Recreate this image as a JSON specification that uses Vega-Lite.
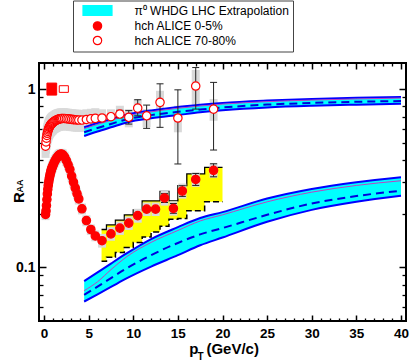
{
"$schema": "https://vega.github.io/schema/vega-lite/v6.json",
"width": 367, "height": 258,
"autosize": {"type": "none"},
"padding": {"left": 39, "top": 63, "right": 9, "bottom": 42},
"background": "white",
"config": {"view": {"stroke": "black", "strokeWidth": 2}, "font": "Liberation Sans"},
"datasets": {
"yellow": [
{"x":6.45,"top":0.163,"bot":0.108},{"x":7,"top":0.173,"bot":0.114},{"x":8,"top":0.184,"bot":0.121},{"x":9,"top":0.197,"bot":0.129},{"x":10,"top":0.210,"bot":0.138},{"x":11,"top":0.236,"bot":0.148},{"x":12,"top":0.236,"bot":0.158},{"x":13,"top":0.267,"bot":0.170},{"x":14,"top":0.236,"bot":0.186},{"x":15,"top":0.287,"bot":0.188},{"x":16,"top":0.334,"bot":0.208},{"x":18,"top":0.364,"bot":0.233},{"x":20,"top":0.364,"bot":0.233}
],
"theory": [
{"band":"central","x":4.5,"lo":0.0643,"dash":0.070,"mag":0.074,"hi":0.0837},
{"band":"central","x":6,"lo":0.0706,"dash":0.078,"mag":0.083,"hi":0.0937},
{"band":"central","x":7.5,"lo":0.0776,"dash":0.087,"mag":0.097,"hi":0.105},
{"band":"central","x":9.3,"lo":0.087,"dash":0.099,"mag":0.115,"hi":0.120},
{"band":"central","x":12,"lo":0.101,"dash":0.117,"mag":0.138,"hi":0.144},
{"band":"central","x":15,"lo":0.117,"dash":0.137,"mag":0.161,"hi":0.168},
{"band":"central","x":17.5,"lo":0.133,"dash":0.153,"mag":0.182,"hi":0.189},
{"band":"central","x":20,"lo":0.147,"dash":0.166,"mag":0.197,"hi":0.204},
{"band":"central","x":25,"lo":0.180,"dash":0.197,"mag":0.233,"hi":0.243},
{"band":"central","x":30,"lo":0.210,"dash":0.228,"mag":0.264,"hi":0.275},
{"band":"central","x":35,"lo":0.233,"dash":0.251,"mag":0.288,"hi":0.300},
{"band":"central","x":40,"lo":0.252,"dash":0.269,"mag":0.306,"hi":0.320},
{"band":"peripheral","x":4.5,"lo":0.545,"dash":0.572,"mag":0.600,"hi":0.610},
{"band":"peripheral","x":6,"lo":0.578,"dash":0.605,"mag":0.634,"hi":0.645},
{"band":"peripheral","x":7.5,"lo":0.610,"dash":0.637,"mag":0.667,"hi":0.678},
{"band":"peripheral","x":9.3,"lo":0.650,"dash":0.677,"mag":0.707,"hi":0.720},
{"band":"peripheral","x":12,"lo":0.686,"dash":0.714,"mag":0.745,"hi":0.758},
{"band":"peripheral","x":15,"lo":0.715,"dash":0.745,"mag":0.780,"hi":0.793},
{"band":"peripheral","x":17.5,"lo":0.740,"dash":0.768,"mag":0.803,"hi":0.816},
{"band":"peripheral","x":20,"lo":0.760,"dash":0.788,"mag":0.823,"hi":0.836},
{"band":"peripheral","x":25,"lo":0.789,"dash":0.818,"mag":0.850,"hi":0.862},
{"band":"peripheral","x":30,"lo":0.806,"dash":0.836,"mag":0.867,"hi":0.880},
{"band":"peripheral","x":35,"lo":0.817,"dash":0.848,"mag":0.880,"hi":0.893},
{"band":"peripheral","x":40,"lo":0.826,"dash":0.857,"mag":0.890,"hi":0.903}
],
"norm": [
{"series":"hch ALICE 0-5%","x1":0.33,"x2":1.42,"y1":0.925,"y2":1.08},
{"series":"hch ALICE 70-80%","x1":1.71,"x2":2.73,"y1":0.958,"y2":1.044}
],
"alice": [
{"series":"hch ALICE 70-80%","x":0.175,"y":0.478,"sLo":0.411,"sHi":0.545},
{"series":"hch ALICE 70-80%","x":0.225,"y":0.505,"sLo":0.434,"sHi":0.576},
{"series":"hch ALICE 70-80%","x":0.275,"y":0.530,"sLo":0.456,"sHi":0.604},
{"series":"hch ALICE 70-80%","x":0.325,"y":0.550,"sLo":0.473,"sHi":0.627},
{"series":"hch ALICE 70-80%","x":0.375,"y":0.565,"sLo":0.486,"sHi":0.644},
{"series":"hch ALICE 70-80%","x":0.425,"y":0.579,"sLo":0.498,"sHi":0.660},
{"series":"hch ALICE 70-80%","x":0.475,"y":0.590,"sLo":0.507,"sHi":0.673},
{"series":"hch ALICE 70-80%","x":0.525,"y":0.600,"sLo":0.516,"sHi":0.684},
{"series":"hch ALICE 70-80%","x":0.575,"y":0.609,"sLo":0.524,"sHi":0.694},
{"series":"hch ALICE 70-80%","x":0.625,"y":0.616,"sLo":0.530,"sHi":0.702},
{"series":"hch ALICE 70-80%","x":0.675,"y":0.622,"sLo":0.535,"sHi":0.709},
{"series":"hch ALICE 70-80%","x":0.725,"y":0.628,"sLo":0.540,"sHi":0.716},
{"series":"hch ALICE 70-80%","x":0.775,"y":0.633,"sLo":0.544,"sHi":0.722},
{"series":"hch ALICE 70-80%","x":0.825,"y":0.637,"sLo":0.548,"sHi":0.726},
{"series":"hch ALICE 70-80%","x":0.875,"y":0.641,"sLo":0.551,"sHi":0.731},
{"series":"hch ALICE 70-80%","x":0.925,"y":0.645,"sLo":0.555,"sHi":0.735},
{"series":"hch ALICE 70-80%","x":0.975,"y":0.648,"sLo":0.557,"sHi":0.739},
{"series":"hch ALICE 70-80%","x":1.05,"y":0.653,"sLo":0.562,"sHi":0.744},
{"series":"hch ALICE 70-80%","x":1.15,"y":0.659,"sLo":0.567,"sHi":0.751},
{"series":"hch ALICE 70-80%","x":1.25,"y":0.664,"sLo":0.571,"sHi":0.757},
{"series":"hch ALICE 70-80%","x":1.35,"y":0.668,"sLo":0.574,"sHi":0.762},
{"series":"hch ALICE 70-80%","x":1.45,"y":0.672,"sLo":0.578,"sHi":0.766},
{"series":"hch ALICE 70-80%","x":1.55,"y":0.675,"sLo":0.581,"sHi":0.770},
{"series":"hch ALICE 70-80%","x":1.65,"y":0.678,"sLo":0.583,"sHi":0.773},
{"series":"hch ALICE 70-80%","x":1.75,"y":0.680,"sLo":0.585,"sHi":0.775},
{"series":"hch ALICE 70-80%","x":1.85,"y":0.682,"sLo":0.587,"sHi":0.777},
{"series":"hch ALICE 70-80%","x":1.95,"y":0.683,"sLo":0.587,"sHi":0.779},
{"series":"hch ALICE 70-80%","x":2.1,"y":0.684,"sLo":0.588,"sHi":0.780},
{"series":"hch ALICE 70-80%","x":2.3,"y":0.684,"sLo":0.588,"sHi":0.780},
{"series":"hch ALICE 70-80%","x":2.5,"y":0.682,"sLo":0.587,"sHi":0.777},
{"series":"hch ALICE 70-80%","x":2.7,"y":0.680,"sLo":0.585,"sHi":0.775},
{"series":"hch ALICE 70-80%","x":2.9,"y":0.678,"sLo":0.583,"sHi":0.773},
{"series":"hch ALICE 70-80%","x":3.1,"y":0.676,"sLo":0.581,"sHi":0.771},
{"series":"hch ALICE 70-80%","x":3.3,"y":0.674,"sLo":0.580,"sHi":0.768},
{"series":"hch ALICE 70-80%","x":3.5,"y":0.672,"sLo":0.578,"sHi":0.766},
{"series":"hch ALICE 70-80%","x":3.7,"y":0.671,"sLo":0.577,"sHi":0.765},
{"series":"hch ALICE 70-80%","x":3.9,"y":0.670,"sLo":0.576,"sHi":0.764},
{"series":"hch ALICE 70-80%","x":4.25,"y":0.670,"sLo":0.576,"sHi":0.764},
{"series":"hch ALICE 70-80%","x":4.75,"y":0.675,"sLo":0.581,"sHi":0.770},
{"series":"hch ALICE 70-80%","x":5.25,"y":0.680,"sLo":0.585,"sHi":0.775},
{"series":"hch ALICE 70-80%","x":5.75,"y":0.685,"sLo":0.589,"sHi":0.781},
{"series":"hch ALICE 70-80%","x":6.5,"y":0.688,"sLo":0.61,"sHi":0.77},
{"series":"hch ALICE 70-80%","x":7.5,"y":0.700,"sLo":0.64,"sHi":0.77},
{"series":"hch ALICE 70-80%","x":8.5,"y":0.724,"sLo":0.65,"sHi":0.806,"eLo":0.69,"eHi":0.76},
{"series":"hch ALICE 70-80%","x":9.5,"y":0.694,"sLo":0.61,"sHi":0.772,"eLo":0.636,"eHi":0.757},
{"series":"hch ALICE 70-80%","x":10.5,"y":0.782,"sLo":0.708,"sHi":0.879,"eLo":0.708,"eHi":0.871},
{"series":"hch ALICE 70-80%","x":11.5,"y":0.708,"sLo":0.61,"sHi":0.772,"eLo":0.602,"eHi":0.813},
{"series":"hch ALICE 70-80%","x":13,"y":0.842,"sLo":0.724,"sHi":0.978,"eLo":0.61,"eHi":1.07},
{"series":"hch ALICE 70-80%","x":15,"y":0.688,"sLo":0.572,"sHi":0.806,"eLo":0.38,"eHi":0.99},
{"series":"hch ALICE 70-80%","x":17,"y":1.04,"sLo":0.79,"sHi":1.28,"eLo":0.772,"eHi":1.32},
{"series":"hch ALICE 70-80%","x":19,"y":0.772,"sLo":0.664,"sHi":0.879,"eLo":0.455,"eHi":1.09},
{"series":"hch ALICE 0-5%","x":0.175,"y":0.198,"sLo":0.184,"sHi":0.212},
{"series":"hch ALICE 0-5%","x":0.225,"y":0.207,"sLo":0.193,"sHi":0.221},
{"series":"hch ALICE 0-5%","x":0.275,"y":0.222,"sLo":0.206,"sHi":0.238},
{"series":"hch ALICE 0-5%","x":0.325,"y":0.240,"sLo":0.223,"sHi":0.257},
{"series":"hch ALICE 0-5%","x":0.375,"y":0.258,"sLo":0.240,"sHi":0.276},
{"series":"hch ALICE 0-5%","x":0.425,"y":0.274,"sLo":0.255,"sHi":0.293},
{"series":"hch ALICE 0-5%","x":0.475,"y":0.288,"sLo":0.268,"sHi":0.308},
{"series":"hch ALICE 0-5%","x":0.525,"y":0.300,"sLo":0.279,"sHi":0.321},
{"series":"hch ALICE 0-5%","x":0.575,"y":0.311,"sLo":0.289,"sHi":0.333},
{"series":"hch ALICE 0-5%","x":0.625,"y":0.321,"sLo":0.299,"sHi":0.343},
{"series":"hch ALICE 0-5%","x":0.675,"y":0.330,"sLo":0.307,"sHi":0.353},
{"series":"hch ALICE 0-5%","x":0.725,"y":0.338,"sLo":0.314,"sHi":0.362},
{"series":"hch ALICE 0-5%","x":0.775,"y":0.346,"sLo":0.322,"sHi":0.370},
{"series":"hch ALICE 0-5%","x":0.825,"y":0.353,"sLo":0.328,"sHi":0.378},
{"series":"hch ALICE 0-5%","x":0.875,"y":0.359,"sLo":0.334,"sHi":0.384},
{"series":"hch ALICE 0-5%","x":0.925,"y":0.365,"sLo":0.339,"sHi":0.391},
{"series":"hch ALICE 0-5%","x":0.975,"y":0.370,"sLo":0.344,"sHi":0.396},
{"series":"hch ALICE 0-5%","x":1.05,"y":0.378,"sLo":0.352,"sHi":0.404},
{"series":"hch ALICE 0-5%","x":1.15,"y":0.388,"sLo":0.361,"sHi":0.415},
{"series":"hch ALICE 0-5%","x":1.25,"y":0.397,"sLo":0.369,"sHi":0.425},
{"series":"hch ALICE 0-5%","x":1.35,"y":0.405,"sLo":0.377,"sHi":0.433},
{"series":"hch ALICE 0-5%","x":1.45,"y":0.412,"sLo":0.383,"sHi":0.441},
{"series":"hch ALICE 0-5%","x":1.55,"y":0.418,"sLo":0.389,"sHi":0.447},
{"series":"hch ALICE 0-5%","x":1.65,"y":0.424,"sLo":0.394,"sHi":0.454},
{"series":"hch ALICE 0-5%","x":1.75,"y":0.428,"sLo":0.398,"sHi":0.458},
{"series":"hch ALICE 0-5%","x":1.85,"y":0.431,"sLo":0.401,"sHi":0.461},
{"series":"hch ALICE 0-5%","x":1.95,"y":0.432,"sLo":0.402,"sHi":0.462},
{"series":"hch ALICE 0-5%","x":2.1,"y":0.428,"sLo":0.398,"sHi":0.458},
{"series":"hch ALICE 0-5%","x":2.3,"y":0.416,"sLo":0.387,"sHi":0.445},
{"series":"hch ALICE 0-5%","x":2.5,"y":0.398,"sLo":0.370,"sHi":0.426},
{"series":"hch ALICE 0-5%","x":2.7,"y":0.377,"sLo":0.351,"sHi":0.403},
{"series":"hch ALICE 0-5%","x":2.9,"y":0.354,"sLo":0.329,"sHi":0.379},
{"series":"hch ALICE 0-5%","x":3.1,"y":0.325,"sLo":0.302,"sHi":0.348},
{"series":"hch ALICE 0-5%","x":3.3,"y":0.301,"sLo":0.280,"sHi":0.322},
{"series":"hch ALICE 0-5%","x":3.5,"y":0.279,"sLo":0.259,"sHi":0.299},
{"series":"hch ALICE 0-5%","x":3.7,"y":0.259,"sLo":0.241,"sHi":0.277},
{"series":"hch ALICE 0-5%","x":3.9,"y":0.242,"sLo":0.225,"sHi":0.259},
{"series":"hch ALICE 0-5%","x":4.25,"y":0.213,"sLo":0.198,"sHi":0.228},
{"series":"hch ALICE 0-5%","x":4.75,"y":0.183,"sLo":0.170,"sHi":0.196},
{"series":"hch ALICE 0-5%","x":5.25,"y":0.163,"sLo":0.152,"sHi":0.174},
{"series":"hch ALICE 0-5%","x":5.75,"y":0.150,"sLo":0.140,"sHi":0.161},
{"series":"hch ALICE 0-5%","x":6.5,"y":0.141,"sLo":0.129,"sHi":0.154},
{"series":"hch ALICE 0-5%","x":7.5,"y":0.154,"sLo":0.141,"sHi":0.168},
{"series":"hch ALICE 0-5%","x":8.5,"y":0.166,"sLo":0.152,"sHi":0.181},
{"series":"hch ALICE 0-5%","x":9.5,"y":0.177,"sLo":0.162,"sHi":0.193},
{"series":"hch ALICE 0-5%","x":10.5,"y":0.195,"sLo":0.178,"sHi":0.213},
{"series":"hch ALICE 0-5%","x":11.5,"y":0.212,"sLo":0.194,"sHi":0.231},
{"series":"hch ALICE 0-5%","x":12.5,"y":0.212,"sLo":0.194,"sHi":0.231},
{"series":"hch ALICE 0-5%","x":13.5,"y":0.245,"sLo":0.222,"sHi":0.270,"eLo":0.231,"eHi":0.259},
{"series":"hch ALICE 0-5%","x":14.5,"y":0.214,"sLo":0.195,"sHi":0.235,"eLo":0.201,"eHi":0.228},
{"series":"hch ALICE 0-5%","x":15.5,"y":0.268,"sLo":0.243,"sHi":0.295,"eLo":0.250,"eHi":0.287},
{"series":"hch ALICE 0-5%","x":17,"y":0.311,"sLo":0.283,"sHi":0.342,"eLo":0.288,"eHi":0.336},
{"series":"hch ALICE 0-5%","x":19,"y":0.350,"sLo":0.318,"sHi":0.385,"eLo":0.322,"eHi":0.381}
]
},
"resolve": {"axis": {"x": "independent", "y": "independent"}},
"layer": [
{"data": {"name": "yellow"},
 "mark": {"type": "area", "interpolate": "step-after", "fill": "#ffff00"},
 "encoding": {
  "x": {"field": "x", "type": "quantitative", "scale": {"domain": [0, 40], "nice": false, "zero": false}, "axis": null},
  "y": {"field": "bot", "type": "quantitative", "scale": {"type": "log", "domain": [0.05, 1.4], "nice": false}, "axis": null},
  "y2": {"field": "top"}}},
{"data": {"name": "yellow"},
 "mark": {"type": "line", "interpolate": "step-after", "color": "black", "strokeWidth": 1.3},
 "encoding": {
  "x": {"field": "x", "type": "quantitative", "axis": null},
  "y": {"field": "top", "type": "quantitative", "axis": null}}},
{"data": {"name": "yellow"},
 "mark": {"type": "line", "interpolate": "step-after", "color": "black", "strokeWidth": 1.5, "strokeDash": [6, 3]},
 "encoding": {
  "x": {"field": "x", "type": "quantitative", "axis": null},
  "y": {"field": "bot", "type": "quantitative", "axis": null}}},
{"data": {"name": "alice"},
 "mark": {"type": "bar", "width": 8, "fill": "#d9d9d9", "clip": true},
 "encoding": {
  "x": {"field": "x", "type": "quantitative", "axis": null},
  "y": {"field": "sLo", "type": "quantitative", "axis": null},
  "y2": {"field": "sHi"}}},
{"data": {"name": "theory"},
 "mark": {"type": "area", "interpolate": "monotone", "fill": "#00ffff"},
 "encoding": {
  "x": {"field": "x", "type": "quantitative", "axis": {"orient": "bottom", "values": [0,5,10,15,20,25,30,35,40], "tickSize": -6, "tickWidth": 1.5, "tickColor": "black", "domain": false, "grid": false, "labelFontSize": 13.5, "labelFontWeight": "bold", "labelFont": "Liberation Sans", "labelColor": "black", "labelPadding": 11, "labelFlush": false, "title": null}},
  "y": {"field": "lo", "type": "quantitative", "axis": {"orient": "left", "values": [0.1, 1], "format": "~g", "tickSize": -7, "tickWidth": 1.5, "tickColor": "black", "domain": false, "grid": false, "labelFontSize": 14, "labelFontWeight": "bold", "labelFont": "Liberation Sans", "labelColor": "black", "labelPadding": 11, "title": null}},
  "y2": {"field": "hi"},
  "detail": {"field": "band"}}},
{"data": {"name": "theory"},
 "mark": {"type": "line", "interpolate": "monotone", "color": "#0000ff", "strokeWidth": 2},
 "encoding": {
  "x": {"field": "x", "type": "quantitative", "axis": {"orient": "bottom", "values": [1,2,3,4,6,7,8,9,11,12,13,14,16,17,18,19,21,22,23,24,26,27,28,29,31,32,33,34,36,37,38,39], "tickSize": -3, "tickWidth": 1.3, "tickColor": "black", "labels": false, "domain": false, "grid": false, "title": null}},
  "y": {"field": "hi", "type": "quantitative", "axis": {"orient": "left", "values": [0.06,0.07,0.08,0.09,0.2,0.3,0.4,0.5,0.6,0.7,0.8,0.9], "tickSize": -4, "tickWidth": 1.3, "tickColor": "black", "labels": false, "domain": false, "grid": false, "title": null}},
  "detail": {"field": "band"}}},
{"data": {"name": "theory"},
 "mark": {"type": "line", "interpolate": "monotone", "color": "#0000ff", "strokeWidth": 2},
 "encoding": {
  "x": {"field": "x", "type": "quantitative", "axis": {"orient": "top", "values": [0,5,10,15,20,25,30,35,40], "tickSize": -6, "tickWidth": 1.5, "tickColor": "black", "labels": false, "domain": false, "grid": false, "title": null}},
  "y": {"field": "lo", "type": "quantitative", "axis": {"orient": "right", "values": [0.1, 1], "tickSize": -7, "tickWidth": 1.5, "tickColor": "black", "labels": false, "domain": false, "grid": false, "title": null}},
  "detail": {"field": "band"}}},
{"data": {"name": "theory"},
 "mark": {"type": "line", "interpolate": "monotone", "color": "#c040c0", "strokeWidth": 1},
 "encoding": {
  "x": {"field": "x", "type": "quantitative", "axis": {"orient": "top", "values": [1,2,3,4,6,7,8,9,11,12,13,14,16,17,18,19,21,22,23,24,26,27,28,29,31,32,33,34,36,37,38,39], "tickSize": -3, "tickWidth": 1.3, "tickColor": "black", "labels": false, "domain": false, "grid": false, "title": null}},
  "y": {"field": "mag", "type": "quantitative", "axis": {"orient": "right", "values": [0.06,0.07,0.08,0.09,0.2,0.3,0.4,0.5,0.6,0.7,0.8,0.9], "tickSize": -4, "tickWidth": 1.3, "tickColor": "black", "labels": false, "domain": false, "grid": false, "title": null}},
  "detail": {"field": "band"}}},
{"data": {"name": "theory"},
 "mark": {"type": "line", "interpolate": "monotone", "color": "#0000dd", "strokeWidth": 2, "strokeDash": [8, 5]},
 "encoding": {
  "x": {"field": "x", "type": "quantitative", "axis": null},
  "y": {"field": "dash", "type": "quantitative", "axis": null},
  "detail": {"field": "band"}}},
{"data": {"name": "alice"},
 "transform": [{"filter": "isValid(datum.eLo)"}],
 "mark": {"type": "rule", "color": "#222222", "strokeWidth": 1},
 "encoding": {
  "x": {"field": "x", "type": "quantitative", "axis": null},
  "y": {"field": "eLo", "type": "quantitative", "axis": null},
  "y2": {"field": "eHi"}}},
{"data": {"name": "alice"},
 "transform": [{"filter": "isValid(datum.eLo)"}],
 "mark": {"type": "tick", "orient": "horizontal", "size": 7, "thickness": 1, "color": "#222222", "opacity": 1},
 "encoding": {
  "x": {"field": "x", "type": "quantitative", "axis": null},
  "y": {"field": "eLo", "type": "quantitative", "axis": null}}},
{"data": {"name": "alice"},
 "transform": [{"filter": "isValid(datum.eHi)"}],
 "mark": {"type": "tick", "orient": "horizontal", "size": 7, "thickness": 1, "color": "#222222", "opacity": 1},
 "encoding": {
  "x": {"field": "x", "type": "quantitative", "axis": null},
  "y": {"field": "eHi", "type": "quantitative", "axis": null}}},
{"data": {"name": "norm"},
 "mark": {"type": "rect", "strokeWidth": 1, "stroke": "#ff0000"},
 "encoding": {
  "x": {"field": "x1", "type": "quantitative", "axis": null},
  "x2": {"field": "x2"},
  "y": {"field": "y1", "type": "quantitative", "axis": null},
  "y2": {"field": "y2"},
  "fill": {"condition": {"test": "datum.series === 'hch ALICE 0-5%'", "value": "#ff0000"}, "value": "#ffffff"}}},
{"data": {"name": "alice"},
 "mark": {"type": "point", "filled": true, "size": 55, "strokeWidth": 1.2, "opacity": 1},
 "encoding": {
  "x": {"field": "x", "type": "quantitative", "axis": null},
  "y": {"field": "y", "type": "quantitative", "axis": null},
  "fill": {"field": "series", "type": "nominal",
   "scale": {"domain": ["π⁰ WHDG LHC Extrapolation", "hch ALICE 0-5%", "hch ALICE 70-80%"], "range": ["#00ffff", "#ff0000", "#ffffff"]},
   "legend": {"title": null, "orient": "none", "legendX": 34, "legendY": -62.5, "direction": "vertical", "padding": 4, "symbolOffset": 14.5, "labelOffset": 31, "rowPadding": 0.5, "strokeColor": "#444444", "fillColor": "white", "labelFont": "Liberation Sans", "labelFontSize": 12, "labelColor": "black", "symbolSize": 55, "symbolStrokeWidth": 1.2, "labelLimit": 300}},
  "stroke": {"field": "series", "type": "nominal",
   "scale": {"domain": ["π⁰ WHDG LHC Extrapolation", "hch ALICE 0-5%", "hch ALICE 70-80%"], "range": ["#00ffff", "#ff0000", "#ff0000"]}},
  "shape": {"field": "series", "type": "nominal",
   "scale": {"domain": ["π⁰ WHDG LHC Extrapolation", "hch ALICE 0-5%", "hch ALICE 70-80%"], "range": ["M-3.91,-1.35L3.91,-1.35L3.91,1.35L-3.91,1.35Z", "M1.13,0A1.13,1.13,0,1,1,-1.13,0A1.13,1.13,0,1,1,1.13,0Z", "M1.13,0A1.13,1.13,0,1,1,-1.13,0A1.13,1.13,0,1,1,1.13,0Z"]}}}},
{"data": {"values": [{}]},
 "mark": {"type": "text", "text": "R", "angle": 270, "align": "center", "baseline": "alphabetic", "font": "Liberation Sans", "fontWeight": "bold", "fontSize": 15, "color": "black"},
 "encoding": {
  "x": {"datum": -2.256, "type": "quantitative", "axis": null},
  "y": {"datum": 0.2465, "type": "quantitative", "axis": null}}},
{"data": {"values": [{}]},
 "mark": {"type": "text", "text": "AA", "angle": 270, "align": "center", "baseline": "alphabetic", "font": "Liberation Sans", "fontWeight": "bold", "fontSize": 9, "color": "black"},
 "encoding": {
  "x": {"datum": -2.343, "type": "quantitative", "axis": null},
  "y": {"datum": 0.2858, "type": "quantitative", "axis": null}}},
{"data": {"values": [{}]},
 "mark": {"type": "text", "text": "p", "align": "left", "baseline": "alphabetic", "font": "Liberation Sans", "fontWeight": "bold", "fontSize": 15, "color": "black"},
 "encoding": {
  "x": {"datum": 16.27, "type": "quantitative", "axis": null},
  "y": {"datum": 0.03265, "type": "quantitative", "axis": null}}},
{"data": {"values": [{}]},
 "mark": {"type": "text", "text": "T", "align": "left", "baseline": "alphabetic", "font": "Liberation Sans", "fontWeight": "bold", "fontSize": 10, "color": "black"},
 "encoding": {
  "x": {"datum": 17.19, "type": "quantitative", "axis": null},
  "y": {"datum": 0.0304, "type": "quantitative", "axis": null}}},
{"data": {"values": [{}]},
 "mark": {"type": "text", "text": "(GeV/c)", "align": "left", "baseline": "alphabetic", "font": "Liberation Sans", "fontWeight": "bold", "fontSize": 15, "color": "black"},
 "encoding": {
  "x": {"datum": 18.2, "type": "quantitative", "axis": null},
  "y": {"datum": 0.03265, "type": "quantitative", "axis": null}}}
]
}
